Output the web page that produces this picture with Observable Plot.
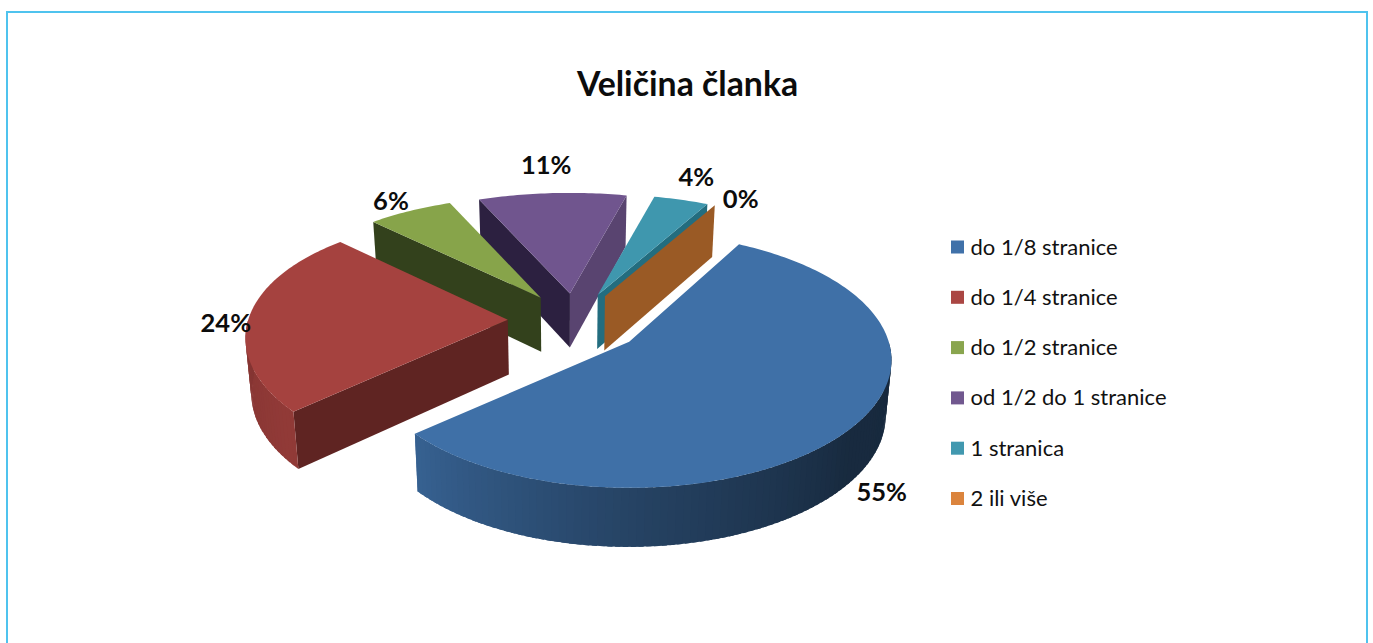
<!DOCTYPE html>
<html><head><meta charset="utf-8">
<script src="https://cdn.jsdelivr.net/npm/d3@7"></script>
<script src="https://cdn.jsdelivr.net/npm/@observablehq/plot@0.6"></script>
<style>
html,body{margin:0;padding:0;background:#fff;overflow:hidden}
#wrap{position:relative;width:1373px;height:643px;overflow:hidden}
#frame{position:absolute;left:6px;top:11px;width:1358px;height:700px;border:2px solid #4fc3ee;box-sizing:content-box}
#chart{position:absolute;left:0;top:0}
svg{display:block;background:transparent!important}
</style></head><body>
<div id="wrap"><div id="frame"></div><div id="chart"></div></div>
<script>
const titleText = "Veličina članka";
const categories = ["do 1/8 stranice","do 1/4 stranice","do 1/2 stranice","od 1/2 do 1 stranice","1 stranica","2 ili više"];
const values = [55.49, 24.0, 6.1, 10.5, 3.9, 0.01];

// styles
const topColors = ["#3f70a7","#a5423f","#87a44a","#70558e","#3f97ae","#e08135"];
const legendColors = ["#4071a9","#aa4643","#89a54e","#71588f","#4198af","#db843d"];
const wallColors = {1:["#5f2422"],2:["#33411c"],3:["#2c2040","#594470"],4:[null,"#236d7f"],5:[null,"#9a5a25"]};
const labelNudge = [[29,66],[-23.5,7],[-19,-9],[-6,-27],[15,-22],[26,-5]];
const drawOrder = [3,4,5,2,1,0];

// projection model of the tilted pie
const startAngle = 28.5, R = 259.5, Ry = 125, persp = 0.145, farShrink = 0.0016, frontY = 342;
const centre = [574,320], explodeXs = [63.5,67,67,67,72,72], explodeY = 31;
const rad = d => d*Math.PI/180;
const offs = (t,rx,ry) => { const w = 1+persp*Math.cos(rad(t));
  return [rx*Math.sin(rad(t))/w, -ry*Math.cos(rad(t))/w]; };
const lower = ([x,y]) => [x+0.018*(567-x), y+54+0.026*(y-293)];
const shade = d3.scaleLinear().domain([90,130,180,230,270,360]).range([.36,.38,.6,.88,.8,.8]);
const dim = (c,f) => { const k=d3.rgb(c); return d3.rgb(k.r*f,k.g*f,k.b*f).formatHex(); };

const total = d3.sum(values);
let acc = startAngle;
const slices = values.map((v,i)=>{ const a=acc, b=acc+v/total*360; acc=b; const m=(a+b)/2;
  const e=offs(m,explodeXs[i],explodeY); return {i,a,b,m,apex:[centre[0]+e[0],centre[1]+e[1]]}; });
const rimPt = (s,t) => { const o=offs(t,R,Ry);
  const far = 1 - farShrink*Math.max(frontY-s.apex[1],0)*Math.max(Math.cos(rad(t)),0);
  return [s.apex[0]+o[0], s.apex[1]+o[1]*far]; };

const polys = []; let pid = 0;
const addPoly = (pts,color) => { const id=pid++; pts.forEach(([x,y])=>polys.push({id,x,y,color})); };
for (const k of drawOrder) {
  const s = slices[k];
  const walls = wallColors[k]||[];
  if (walls[1]) { const q=rimPt(s,s.b); addPoly([s.apex,q,lower(q),lower(s.apex)],walls[1]); }
  if (walls[0]) { const q=rimPt(s,s.a); addPoly([s.apex,q,lower(q),lower(s.apex)],walls[0]); }
  const lo=Math.max(s.a,90), hi=Math.min(s.b,270);
  // strips overlap the next one so no seams show between them
  for (let t=lo;t<hi;t+=1.5) {
    const t2=Math.min(t+2.5,hi), p=rimPt(s,t), q=rimPt(s,t2);
    addPoly([p,q,lower(q),lower(p)],dim(topColors[k],shade(t+0.75)));
  }
  const top=[s.apex]; for(let t=s.a;t<s.b;t+=1) top.push(rimPt(s,t)); top.push(rimPt(s,s.b));
  if (s.b-s.a>1) addPoly(top,topColors[k]);
}
const labels = slices.map((s,i)=>{ const p=rimPt(s,s.m);
  return {x:p[0]+labelNudge[i][0], y:p[1]+labelNudge[i][1], text:Math.round(values[i])+"%"}; });
const legendRows = categories.map((c,i)=>({c,i,color:legendColors[i],y:247+i*50.3}));

const plot = Plot.plot({
  width:1373,height:643,margin:0,
  x:{domain:[0,1373],range:[0,1373],axis:null},
  y:{domain:[0,643],range:[0,643],axis:null},
  color:{type:"identity"},
  style:{background:"transparent"},
  marks:[
    Plot.line(polys,{x:"x",y:"y",z:"id",fill:"color",stroke:"none",curve:"linear-closed"}),
    Plot.text(labels,{x:"x",y:"y",text:"text",fontFamily:"Lato",fontWeight:"bold",fontSize:25.5,fill:"#0c0c0c"}),
    Plot.text([titleText],{x:()=>687,y:()=>85,fontFamily:"Lato",fontWeight:"bold",fontSize:33.8,fill:"#0c0c0c"}),
    Plot.rect(legendRows,{x1:()=>951,x2:()=>964,y1:d=>d.y-6.5,y2:d=>d.y+6.5,fill:"color"}),
    Plot.text(legendRows,{x:()=>970,y:"y",text:"c",textAnchor:"start",fontFamily:"Lato",fontSize:22,fill:"#111"})
  ]
});
document.getElementById("chart").append(plot);
</script></body></html>
